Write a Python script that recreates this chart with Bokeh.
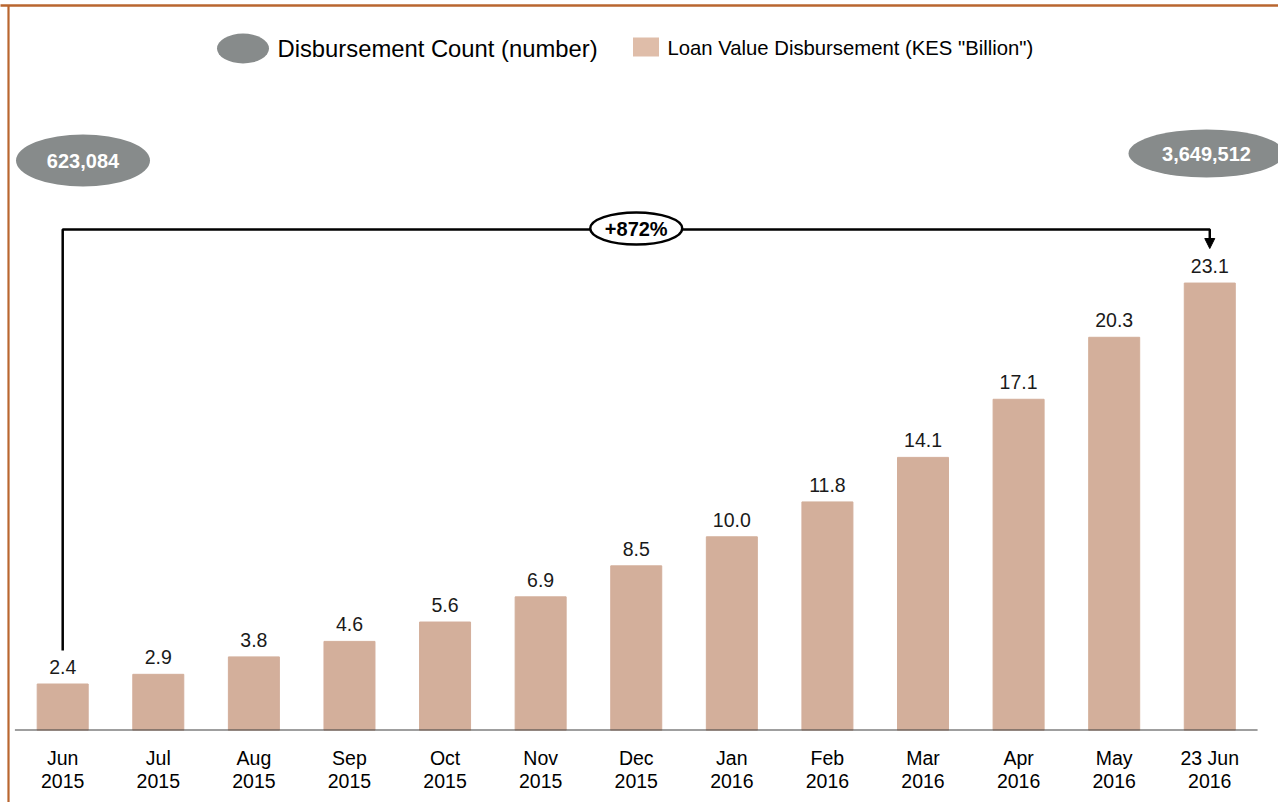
from bokeh.plotting import figure
from bokeh.models import Range1d, Arrow, NormalHead, FixedTicker, LinearAxis
from bokeh.core.properties import value
from bokeh.embed import file_html
from bokeh.resources import INLINE

# ---- data ----
months = ["Jun\n2015", "Jul\n2015", "Aug\n2015", "Sep\n2015", "Oct\n2015", "Nov\n2015",
          "Dec\n2015", "Jan\n2016", "Feb\n2016", "Mar\n2016", "Apr\n2016", "May\n2016",
          "23 Jun\n2016"]
loan_value = [2.4, 2.9, 3.8, 4.6, 5.6, 6.9, 8.5, 10.0, 11.8, 14.1, 17.1, 20.3, 23.1]
count_labels = ["623,084", "3,649,512"]
growth_label = "+872%"
legend_labels = ["Disbursement Count (number)", 'Loan Value Disbursement (KES "Billion")']

# ---- style / layout ----
FONT = value("Liberation Sans")
BAR = "#D3AF9B"
BAR_LEG = "#DFBDA9"
GREY = "#878B8B"
BROWN = "#B9662F"

W, H = 1278, 802
TOP, BASE = 5, 730          # frame top / baseline in page pixels
UNIT = 95.59                # px per category
X0 = -62.2 / UNIT           # data x at the frame's left edge
PPU = 19.37                 # px per billion

def px(x):   # page x -> data x
    return X0 + x / UNIT

def py(y):   # page y -> data y
    return (BASE - y) / PPU

idx = list(range(len(months)))

p = figure(width=W, height=H, output_backend="svg", toolbar_location=None,
           x_range=Range1d(X0, X0 + W / UNIT), y_range=Range1d(0, (BASE - TOP) / PPU),
           y_axis_location=None,
           min_border_left=0, min_border_right=0, min_border_top=TOP,
           min_border_bottom=H - BASE)
p.outline_line_color = None
p.xgrid.visible = False
p.ygrid.visible = False

ax = p.xaxis[0]
ax.ticker = FixedTicker(ticks=idx)
ax.major_label_overrides = {i: m for i, m in zip(idx, months)}
ax.axis_line_color = None
ax.major_tick_line_color = None
ax.minor_tick_line_color = None
ax.major_label_standoff = 10
ax.major_label_text_font = "Liberation Sans"
ax.major_label_text_font_size = "19.5px"
ax.major_label_text_line_height = 1.05
ax.major_label_text_color = "#000000"

# border: top line + left line drawn by an auxiliary axis in page pixels
p.extra_x_ranges = {"page": Range1d(0, W)}
border = LinearAxis(x_range_name="page", ticker=FixedTicker(ticks=[8.3]),
                    axis_line_color=BROWN, axis_line_width=2.6,
                    major_tick_line_color=BROWN, major_tick_line_width=2.2,
                    major_tick_in=H + 20, major_tick_out=0,
                    minor_tick_line_color=None, major_label_standoff=0,
                    major_label_text_font_size="0px", major_label_text_alpha=0)
p.add_layout(border, "above")

# bars
p.vbar(x=idx, top=loan_value, width=51 / UNIT, fill_color=BAR, line_color=BAR)
p.text(x=idx, y=[v + 17 / PPU for v in loan_value], text=[f"{v:.1f}" for v in loan_value],
       text_font=FONT, text_font_size="19.5px", text_color="#1a1a1a",
       text_align="center", text_baseline="alphabetic")

# baseline
p.line(x=[-0.5, len(months) - 0.5], y=[0, 0], line_color="#404040", line_width=2)

# connector
y_top = py(229)
p.line(x=[idx[0], idx[0], idx[-1], idx[-1]], y=[py(650), y_top, y_top, py(238)],
       line_color="black", line_width=2.5)
p.add_layout(Arrow(end=NormalHead(size=10, fill_color="black", line_color="black"),
                   x_start=idx[-1], y_start=py(239), x_end=idx[-1], y_end=py(248),
                   line_color="black", line_width=2.5))

mid = (idx[0] + idx[-1]) / 2
p.ellipse(x=[mid], y=[py(228)], width=92, height=32, width_units="screen",
          height_units="screen", fill_color="white", line_color="black", line_width=2.5)
p.text(x=[mid], y=[py(228)], text=[growth_label], text_font=FONT, text_font_style="bold",
       text_font_size="20px", text_align="center", text_baseline="middle", text_color="black")

# count ellipses
cx = [px(82.5), px(1206)]
cy = [py(160), py(153)]
p.ellipse(x=cx, y=cy, width=[134, 156], height=[52, 48], width_units="screen",
          height_units="screen", fill_color=GREY, line_color=None)
p.text(x=cx, y=cy, text=count_labels, text_font=FONT, text_font_style="bold",
       text_font_size="20px", text_align="center", text_baseline="middle", text_color="white")

# legend
p.ellipse(x=[px(242.5)], y=[py(48)], width=52, height=30, width_units="screen",
          height_units="screen", fill_color=GREY, line_color=None)
p.text(x=[px(277)], y=[py(48)], text=[legend_labels[0]], text_font=FONT,
       text_font_size="23.8px", text_align="left", text_baseline="middle", text_color="black")
p.rect(x=[px(645.5)], y=[py(46.5)], width=26, height=19, width_units="screen",
       height_units="screen", fill_color=BAR_LEG, line_color=None)
p.text(x=[px(667)], y=[py(47)], text=[legend_labels[1]], text_font=FONT,
       text_font_size="20.3px", text_align="left", text_baseline="middle", text_color="black")

open("out.html", "w").write(file_html(p, INLINE))
